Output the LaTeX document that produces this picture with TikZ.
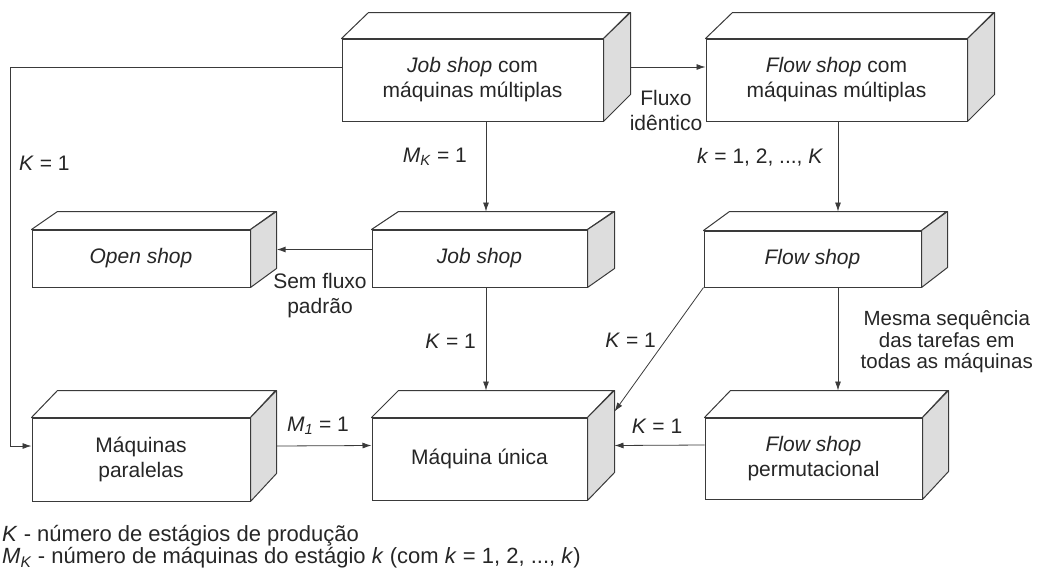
\documentclass[tikz,border=0pt]{standalone}
\usepackage{fontspec}
\setmainfont{Liberation Sans}
\usetikzlibrary{arrows.meta,calc}

\definecolor{ink}{HTML}{262626}
\definecolor{edge}{HTML}{3A3A3A}
\definecolor{sideface}{HTML}{DDDDDD}

\newcommand\boxfont{\fontsize{21}{25}\selectfont}
\newcommand\notefont{\fontsize{20.5}{21.5}\selectfont}
\newcommand\legendfont{\fontsize{22}{25}\selectfont}

\tikzset{
  frontface/.style={draw=edge, line width=1pt, fill=white, inner sep=0pt,
    align=center, font=\boxfont, text=ink},
  faceedge/.style={draw=edge, line width=1pt, line join=round},
  conn/.style={draw=edge, line width=0.8pt, -{Latex[length=9pt,width=6pt]}},
  lbl/.style={font=\boxfont, text=ink, inner sep=0pt, align=center},
}

% #1 name, #2 #3 centre of front face, #4 width, #5 height,
% #6 depth to the right, #7 depth upwards, #8 text
\newcommand\solidbox[8]{%
  \node[frontface, minimum width=#4pt, minimum height=#5pt] (#1) at (#2,#3) {#8};
  \draw[faceedge, fill=white] (#1.north west) -- ++(#6,-#7) -- ++(#4,0)
    -- (#1.north east) -- cycle;
  \draw[faceedge, fill=sideface] (#1.north east) -- ++(#6,-#7) -- ++(0,#5)
    -- (#1.south east) -- cycle;
  \coordinate (#1-in)  at ($(#1.west)+(0,-#7/2)$);
  \coordinate (#1-out) at ($(#1.east)+(#6,-#7/2)$);
  \coordinate (#1-top) at ($(#1.north)+(0,-#7)$);
}

\begin{document}
\begin{tikzpicture}[x=1pt, y=-1pt]
\useasboundingbox (0,0) rectangle (1037,574);

% boxes
\solidbox{jsmm}{472.5}{80}{261}{82}{27}{26}{\textit{Job shop} com\\máquinas múltiplas}
\solidbox{fsmm}{836.5}{80}{261}{82}{27}{26}{\textit{Flow shop} com\\máquinas múltiplas}
\solidbox{open}{141}{258.5}{218}{57}{26}{18}{\textit{Open shop}}
\solidbox{job}{479.5}{258.5}{215}{57}{27}{18}{\textit{Job shop}}
\solidbox{flow}{812.5}{259}{217}{56}{26}{19}{\textit{Flow shop}}
\solidbox{par}{141}{459.5}{218}{83}{26}{27}{Máquinas\\paralelas}
\solidbox{unica}{479.5}{459}{215}{82}{27}{27}{Máquina única}
\solidbox{perm}{813.5}{458.5}{217}{81}{26}{27}{\textit{Flow shop}\\permutacional}

% drop lines
\coordinate (jsdrop) at ($(job-top)+(6.5,0)$);
\coordinate (fsdrop) at ($(flow-top)+(25.5,0)$);

% connectors
\draw[conn] (jsmm-out) -- (jsmm-out -| fsmm.west);
\draw[conn] (jsmm-in) -- ++(-331,0) |- (par-in);
\draw[conn] (jsmm.south -| jsdrop) -- (jsdrop);
\draw[conn] (job.south -| jsdrop) -- (jsdrop |- unica-top);
\draw[conn] (fsmm.south -| fsdrop) -- (fsdrop);
\draw[conn] (flow.south -| fsdrop) -- (fsdrop |- perm-top);
\draw[conn, line width=1.3pt] (job-in) -- (open-out);
\draw[conn] (par-out) -- (unica-in);
\draw[conn] (perm-in) -- (unica-out);
\draw[conn] (flow.south west) -- ($(unica.north east)+(27,-6)$);

% connector labels
\node[lbl, anchor=west] (kleft) at (19,163) {\textit{K} = 1};
\node[lbl, anchor=east] (mk) at (467,157) {\textit{M}\textsubscript{\textit{K}} = 1};
\node[lbl, anchor=west] (kseq) at (697,157) {\textit{k} = 1, 2, ..., \textit{K}};
\node[lbl] (fluxo) at (666,110) {Fluxo\\idêntico};
\node[lbl] (semfluxo) at (320,296) {Sem fluxo\\padrão};
\node[lbl, anchor=east] (kmid) at (476,341) {\textit{K} = 1};
\node[lbl, anchor=east] (kdiag) at (656,340) {\textit{K} = 1};
\node[lbl, font=\notefont, anchor=east] (mesma) at (1033,342) {Mesma sequência\\das tarefas em\\todas as máquinas};
\node[lbl] (m1) at (318,426) {\textit{M}\textsubscript{\textit{1}} = 1};
\node[lbl] (kright) at (657,426) {\textit{K} = 1};

% legend
\node[lbl, font=\legendfont, anchor=west] (leg1) at (2,536) {\textit{K} - número de estágios de produção};
\node[lbl, font=\legendfont, anchor=west] (leg2) at (2,558) {\textit{M}\textsubscript{\textit{K}} - número de máquinas do estágio \textit{k} (com \textit{k} = 1, 2, ..., \textit{k})};
\end{tikzpicture}
\end{document}
